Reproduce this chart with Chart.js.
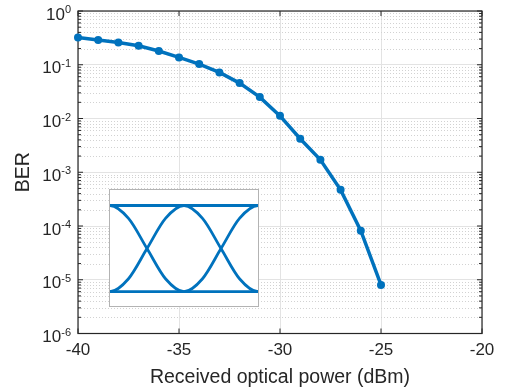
<!DOCTYPE html>
<html>
<head>
<meta charset="utf-8">
<script src="https://cdn.jsdelivr.net/npm/chart.js@4.4.0/dist/chart.umd.min.js"></script>
<style>
  body { margin: 0; background: #fff; }
  #wrap { position: relative; width: 506px; height: 391px; }
  #ber { display: block; }
  #inset {
    position: absolute; left: 109px; top: 189px; width: 150px; height: 118px;
    border: 1px solid #b3b3b3; box-sizing: border-box; background: #fff;
  }
  #eye { display: block; }
</style>
</head>
<body>
<div id="wrap">
  <canvas id="ber" width="506" height="391"></canvas>
  <div id="inset"><canvas id="eye" width="148" height="116"></canvas></div>
</div>
<script>
// BER curve
var power = [-40, -39, -38, -37, -36, -35, -34, -33, -32, -31, -30, -29, -28, -27, -26, -25];
var ber = [0.32, 0.29, 0.26, 0.226, 0.18, 0.137, 0.103, 0.072, 0.0456, 0.025, 0.0112, 0.0042, 0.0017, 4.7e-4, 8.2e-5, 8.0e-6];
var xTicks = [-40, -35, -30, -25, -20];
var yExponents = [0, -1, -2, -3, -4, -5, -6];

// eye diagram in the inset (time in unit intervals, normalised level)
var eyeX = [-0.25, 0, 0.25, 0.5, 0.75, 1, 1.25, 1.5, 1.75, 2, 2.25];
var eyeFall = [1, 1, 0.85, 0.5, 0.15, 0, 0.15, 0.5, 0.85, 1, 1];
var eyeRise = [0, 0, 0.15, 0.5, 0.85, 1, 0.85, 0.5, 0.15, 0, 0];
var eyeHighX = [-0.25, 2.25];
var eyeHigh = [1, 1];
var eyeLow = [0, 0];

var blue = '#0072BD';
var ink = '#262626';
var fontName = '"Liberation Sans", Arial, sans-serif';
Chart.defaults.font.family = fontName;

function pts(xs, ys) {
  return xs.map(function (x, i) { return { x: x, y: ys[i] }; });
}

// minor grid, axes box, inward ticks and 10^n labels
var axisBox = {
  id: 'axisBox',
  beforeDatasetsDraw: function (chart) {
    var ctx = chart.ctx;
    var a = chart.chartArea;
    var x = chart.scales.x;
    var y = chart.scales.y;
    ctx.save();

    ctx.strokeStyle = '#d2d2d2';
    ctx.lineWidth = 1;
    ctx.setLineDash([1, 2]);
    yExponents.forEach(function (e) {
      if (e === -6) return;
      for (var k = 2; k <= 9; k++) {
        var py = Math.round(y.getPixelForValue(k * Math.pow(10, e - 1))) + 0.5;
        ctx.beginPath();
        ctx.moveTo(a.left, py);
        ctx.lineTo(a.right, py);
        ctx.stroke();
      }
    });
    ctx.setLineDash([]);

    ctx.strokeStyle = ink;
    ctx.lineWidth = 1.2;
    ctx.strokeRect(a.left, a.top, a.right - a.left, a.bottom - a.top);

    // ticks on the inside of the box
    ctx.lineWidth = 1;
    xTicks.forEach(function (v) {
      var px = x.getPixelForValue(v);
      ctx.beginPath();
      ctx.moveTo(px, a.bottom); ctx.lineTo(px, a.bottom - 5);
      ctx.moveTo(px, a.top); ctx.lineTo(px, a.top + 5);
      ctx.stroke();
    });
    yExponents.forEach(function (e) {
      for (var k = 1; k <= 9; k++) {
        if (e === 0 && k > 1) break;
        var py = y.getPixelForValue(k * Math.pow(10, e));
        var len = k === 1 ? 5 : 3;
        ctx.beginPath();
        ctx.moveTo(a.left, py); ctx.lineTo(a.left + len, py);
        ctx.moveTo(a.right, py); ctx.lineTo(a.right - len, py);
        ctx.stroke();
      }
    });

    ctx.fillStyle = ink;
    yExponents.forEach(function (e) {
      var py = y.getPixelForValue(Math.pow(10, e));
      var exp = String(e);
      var right = a.left - 7;
      ctx.font = '11px ' + fontName;
      var ew = ctx.measureText(exp).width;
      ctx.textAlign = 'left';
      ctx.textBaseline = 'alphabetic';
      ctx.fillText(exp, right - ew, py + 2);
      ctx.font = '17px ' + fontName;
      ctx.textAlign = 'right';
      ctx.textBaseline = 'middle';
      ctx.fillText('10', right - ew, py + 4);
    });
    ctx.restore();
  }
};

new Chart(document.getElementById('ber'), {
  type: 'line',
  data: {
    datasets: [{
      data: pts(power, ber),
      borderColor: blue,
      backgroundColor: blue,
      borderWidth: 3.5,
      pointRadius: 4,
      pointBorderWidth: 0,
      tension: 0,
      clip: false
    }]
  },
  options: {
    responsive: false,
    animation: false,
    layout: { padding: { left: 0, right: 24, top: 11, bottom: 0 } },
    plugins: { legend: { display: false }, tooltip: { enabled: false } },
    scales: {
      x: {
        type: 'linear',
        min: -40,
        max: -20,
        afterBuildTicks: function (s) {
          s.ticks = xTicks.map(function (v) { return { value: v }; });
        },
        afterFit: function (s) { s.height = 57.5; },
        grid: { color: '#e3e3e3', drawTicks: false },
        border: { display: false },
        ticks: { color: ink, font: { size: 17 }, padding: 7 },
        title: {
          display: true,
          text: 'Received optical power (dBm)',
          color: ink,
          font: { size: 19.5 },
          padding: { top: 0, bottom: 2 }
        }
      },
      y: {
        type: 'logarithmic',
        min: 1e-6,
        max: 1,
        afterBuildTicks: function (s) {
          s.ticks = yExponents.map(function (e) { return { value: Math.pow(10, e) }; });
        },
        afterFit: function (s) { s.width = 78; },
        grid: { color: '#e3e3e3', drawTicks: false },
        border: { display: false },
        ticks: { display: false },
        title: {
          display: true,
          text: 'BER',
          color: ink,
          font: { size: 19.5 },
          padding: { top: 12, bottom: 0 }
        }
      }
    }
  },
  plugins: [axisBox]
});

function eyeSet(xs, ys) {
  return {
    data: pts(xs, ys),
    borderColor: blue,
    borderWidth: 2.8,
    pointRadius: 0,
    cubicInterpolationMode: 'monotone'
  };
}

new Chart(document.getElementById('eye'), {
  type: 'line',
  data: {
    datasets: [
      eyeSet(eyeHighX, eyeHigh),
      eyeSet(eyeHighX, eyeLow),
      eyeSet(eyeX, eyeFall),
      eyeSet(eyeX, eyeRise)
    ]
  },
  options: {
    responsive: false,
    animation: false,
    layout: { padding: 0 },
    plugins: { legend: { display: false }, tooltip: { enabled: false } },
    scales: {
      x: { type: 'linear', min: 0, max: 2, display: false },
      y: { min: -0.166, max: 1.18, display: false }
    }
  }
});
</script>
</body>
</html>
